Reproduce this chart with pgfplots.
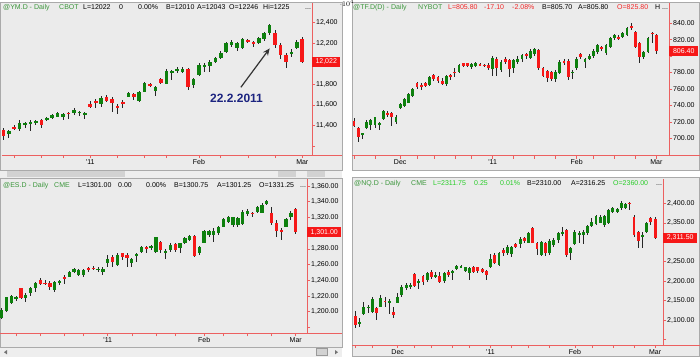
\documentclass[border=0pt]{standalone}
\usepackage{fontspec}
\setmainfont{Liberation Sans}
\usepackage{pgfplots}
\usepackage{pgfplotstable}
\pgfplotsset{compat=1.18}
\usetikzlibrary{arrows.meta}

\definecolor{panelbg}{RGB}{235,235,235}
\definecolor{framec}{RGB}{170,170,170}
\definecolor{axred}{RGB}{236,96,96}
\definecolor{upg}{RGB}{14,128,14}
\definecolor{dnr}{RGB}{246,24,24}
\definecolor{hdrgreen}{RGB}{60,150,60}
\definecolor{brgreen}{RGB}{40,205,40}
\definecolor{hdrred}{RGB}{242,40,40}
\definecolor{navyt}{RGB}{28,36,128}
\definecolor{sbtrack}{RGB}{238,238,238}
\definecolor{sbthumb}{RGB}{210,210,210}

\pgfplotstableread{
i o h l c
0 11356 11372 11258 11297
1 11317 11356 11275 11349
2 11388 11404 11356 11365
3 11365 11453 11349 11427
4 11401 11437 11372 11421
5 11414 11453 11346 11437
6 11427 11453 11404 11440
7 11453 11460 11372 11401
8 11450 11486 11443 11476
9 11469 11511 11460 11502
10 11486 11528 11479 11518
11 11479 11518 11453 11508
12 11524 11534 11460 11511
13 11518 11567 11502 11550
14 11528 11541 11492 11531
15 11498 11534 11460 11524
16 11609 11641 11567 11583
17 11635 11654 11567 11615
18 11606 11687 11583 11670
19 11680 11693 11625 11641
20 11654 11674 11534 11622
21 11589 11606 11511 11576
22 11631 11648 11567 11615
23 11680 11729 11674 11713
24 11706 11719 11648 11680
25 11641 11739 11631 11729
26 11729 11826 11722 11816
27 11803 11816 11777 11784
28 11739 11787 11687 11777
29 11849 11859 11803 11816
30 11803 11946 11803 11933
31 11907 11940 11842 11933
32 11938 11972 11914 11942
33 11923 11972 11914 11946
34 11946 11956 11745 11777
35 11794 11859 11761 11849
36 11891 12005 11881 11988
37 11972 12005 11923 11988
38 11979 12037 11923 12021
39 12021 12069 12005 12053
40 12053 12128 12044 12108
41 12118 12215 12108 12199
42 12183 12232 12160 12215
43 12150 12215 12128 12199
44 12150 12248 12141 12238
45 12232 12238 12199 12215
46 12212 12225 12167 12199
47 12206 12264 12193 12248
48 12238 12313 12225 12297
49 12297 12387 12280 12378
50 12297 12329 12151 12183
51 12183 12199 12044 12086
52 12086 12102 11956 12021
53 12095 12141 12069 12118
54 12150 12232 12141 12215
55 12246 12264 12005 12022
}\ymdata

\pgfplotstableread{
i o h l c
0 721.0 724.3 714.0 715.4
1 712.1 714.1 695.9 701.2
2 704.0 706.8 699.0 706.0
3 712.1 722.2 711.3 720.2
4 716.2 723.1 710.1 722.2
5 716.2 726.3 712.1 725.5
6 716.2 720.2 710.1 719.0
7 723.1 734.4 722.2 733.6
8 730.4 733.2 726.3 728.3
9 730.4 732.4 715.4 726.3
10 720.2 728.3 717.0 726.3
11 736.4 742.5 735.6 741.7
12 739.3 748.6 738.5 747.4
13 743.3 754.7 742.5 753.9
14 751.4 760.7 750.6 759.5
15 767.6 768.9 759.5 762.8
16 764.8 767.6 758.7 762.8
17 767.6 768.9 762.8 763.6
18 764.8 775.7 763.6 774.9
19 777.0 777.8 770.0 771.7
20 774.1 775.7 767.6 770.0
21 770.0 772.9 764.8 766.0
22 766.0 777.0 763.6 775.7
23 777.0 778.2 770.9 774.9
24 781.0 785.0 774.9 779.0
25 781.0 790.3 779.8 789.1
26 791.1 792.0 786.3 787.9
27 791.1 792.0 787.1 787.9
28 786.3 791.1 783.8 790.3
29 787.9 793.2 787.1 792.0
30 790.3 791.1 787.9 788.7
31 789.1 790.3 787.1 787.9
32 789.1 791.1 783.0 785.1
33 783.8 800.0 775.7 798.0
34 797.0 799.0 776.0 785.0
35 783.0 795.0 781.0 793.0
36 797.0 799.0 790.0 793.0
37 795.0 797.0 774.0 784.0
38 785.0 797.0 779.0 795.0
39 793.0 800.0 790.0 796.0
40 796.0 803.0 793.0 801.0
41 802.0 804.0 796.0 800.0
42 798.0 808.0 797.0 806.0
43 802.0 810.0 800.0 808.0
44 807.0 808.0 783.0 785.0
45 785.0 787.0 774.0 776.0
46 782.0 783.0 769.0 773.0
47 780.0 782.0 770.0 772.0
48 772.0 783.0 769.0 781.0
49 779.0 795.0 778.0 793.0
50 794.4 796.0 789.0 791.1
51 794.4 796.0 770.8 775.0
52 779.0 783.0 771.7 781.0
53 785.0 799.0 783.0 797.0
54 802.0 804.0 797.0 799.0
55 793.0 798.0 785.0 797.0
56 797.0 802.0 795.0 800.0
57 800.0 808.0 798.0 806.5
58 805.0 815.0 803.0 813.0
59 810.6 812.0 806.0 808.0
60 803.3 815.0 801.0 813.4
61 811.4 823.0 810.0 821.5
62 821.5 826.5 820.0 825.6
63 823.5 825.0 819.0 821.5
64 823.5 829.0 822.0 827.6
65 825.6 835.0 824.0 833.7
66 836.0 839.7 832.0 834.8
67 828.8 830.0 810.0 811.4
68 815.4 817.0 792.0 799.2
69 799.2 806.5 797.0 805.3
70 805.3 823.0 804.0 821.5
71 828.4 829.5 815.4 826.8
72 825.8 827.0 802.0 805.8
}\tfdata

\pgfplotstableread{
i o h l c
0 1191.5 1204.3 1190.3 1202.2
1 1201.3 1219.1 1200.0 1218.3
2 1211.5 1221.3 1209.8 1220.0
3 1215.8 1220.0 1214.0 1218.3
4 1229.8 1230.6 1215.8 1217.0
5 1217.0 1223.4 1212.8 1221.3
6 1223.4 1231.9 1220.0 1229.8
7 1229.8 1238.3 1225.5 1237.0
8 1240.4 1242.5 1234.0 1235.3
9 1237.0 1240.4 1234.0 1236.0
10 1236.1 1239.1 1227.6 1231.9
11 1227.6 1239.5 1225.5 1238.3
12 1237.0 1240.4 1234.0 1239.1
13 1243.8 1246.7 1235.3 1241.2
14 1244.6 1252.3 1243.8 1251.0
15 1251.0 1256.1 1248.9 1254.4
16 1246.7 1254.0 1245.5 1253.1
17 1246.7 1254.0 1244.6 1253.1
18 1255.2 1257.4 1251.0 1253.1
19 1256.1 1258.2 1253.1 1254.8
20 1254.0 1257.4 1250.0 1254.2
21 1251.0 1256.5 1246.7 1254.0
22 1261.6 1272.2 1257.4 1266.7
23 1270.1 1272.2 1257.4 1263.7
24 1259.5 1274.3 1258.2 1272.2
25 1274.3 1275.2 1265.9 1270.1
26 1272.2 1274.3 1257.4 1268.0
27 1261.6 1268.0 1257.4 1266.7
28 1271.0 1274.3 1263.7 1273.1
29 1276.5 1283.7 1274.3 1282.8
30 1282.0 1283.7 1274.3 1279.4
31 1280.7 1285.0 1278.6 1283.7
32 1276.5 1295.6 1275.2 1294.7
33 1289.2 1290.5 1274.3 1278.6
34 1275.2 1279.4 1266.7 1277.7
35 1278.6 1287.1 1276.5 1285.0
36 1286.2 1287.9 1276.5 1278.6
37 1280.7 1287.9 1275.2 1287.1
38 1287.1 1294.7 1286.2 1293.5
39 1291.3 1297.7 1290.5 1296.4
40 1296.4 1297.7 1269.2 1271.0
41 1274.3 1283.7 1272.2 1282.8
42 1288.0 1304.0 1287.0 1303.2
43 1297.7 1304.0 1295.6 1302.8
44 1297.7 1306.2 1289.2 1303.2
45 1299.8 1309.2 1297.7 1307.5
46 1308.3 1318.9 1307.4 1317.6
47 1314.7 1321.9 1313.4 1321.0
48 1310.4 1321.0 1307.4 1320.2
49 1310.4 1321.0 1307.4 1318.9
50 1311.7 1329.5 1310.4 1327.4
51 1324.4 1330.4 1321.9 1328.7
52 1326.1 1327.4 1321.0 1324.4
53 1327.4 1334.6 1326.1 1332.9
54 1326.1 1338.0 1325.3 1335.9
55 1337.2 1342.3 1335.9 1341.4
56 1326.1 1333.8 1310.4 1312.5
57 1313.4 1316.8 1295.6 1303.2
58 1304.0 1306.2 1291.3 1301.9
59 1308.3 1318.9 1307.4 1317.6
60 1321.0 1328.7 1316.8 1326.1
61 1331.25 1332.0 1299.0 1301.0
}\esdata

\pgfplotstableread{
i o h l c
0 2110.3 2124.0 2078.6 2087.2
1 2091.4 2104.3 2082.9 2095.7
2 2115.5 2147.2 2112.9 2132.6
3 2130.1 2138.6 2117.2 2134.3
4 2120.6 2158.3 2118.9 2154.9
5 2130.0 2134.3 2100.0 2117.2
6 2134.3 2164.3 2132.6 2155.8
7 2149.0 2158.3 2132.6 2146.3
8 2142.9 2153.2 2115.5 2148.9
9 2121.5 2132.6 2104.3 2112.9
10 2144.6 2170.3 2142.9 2158.3
11 2164.3 2190.0 2160.0 2185.8
12 2181.5 2194.4 2177.2 2190.0
13 2185.8 2196.0 2179.0 2190.0
14 2218.4 2220.1 2185.8 2187.5
15 2196.0 2204.6 2179.0 2201.2
16 2213.2 2215.8 2190.0 2198.6
17 2203.0 2224.4 2198.6 2220.1
18 2224.4 2228.7 2204.6 2211.5
19 2211.5 2224.4 2207.2 2215.8
20 2213.2 2224.4 2194.4 2198.6
21 2201.2 2224.4 2194.4 2220.1
22 2224.4 2228.7 2211.5 2215.8
23 2221.8 2228.7 2203.0 2227.0
24 2230.4 2241.5 2228.7 2239.0
25 2235.5 2241.5 2233.0 2239.0
26 2227.0 2237.2 2224.4 2235.5
27 2221.8 2235.5 2203.0 2233.0
28 2237.2 2239.0 2220.1 2224.4
29 2235.5 2237.2 2221.8 2227.0
30 2230.4 2233.0 2220.1 2224.4
31 2227.0 2228.7 2203.0 2215.8
32 2237.2 2269.8 2233.0 2256.1
33 2267.3 2271.5 2244.1 2245.8
34 2241.5 2275.8 2239.0 2273.2
35 2280.1 2284.4 2264.7 2271.5
36 2273.2 2293.0 2267.3 2287.0
37 2269.8 2290.4 2263.0 2287.0
38 2295.5 2299.0 2284.4 2288.7
39 2295.5 2312.7 2284.4 2307.6
40 2310.1 2314.4 2297.3 2304.1
41 2299.0 2327.3 2297.3 2324.7
42 2335.9 2338.4 2297.3 2299.0
43 2297.3 2301.6 2267.3 2281.8
44 2267.3 2304.1 2264.7 2301.6
45 2299.0 2301.6 2264.7 2271.5
46 2271.5 2307.6 2267.3 2304.1
47 2293.0 2310.1 2288.7 2305.9
48 2305.9 2327.3 2297.3 2323.0
49 2321.3 2338.4 2316.1 2327.3
50 2331.6 2333.3 2263.0 2267.3
51 2271.5 2287.0 2254.4 2284.4
52 2295.5 2331.6 2293.0 2327.3
53 2318.7 2329.9 2297.3 2324.7
54 2318.7 2331.6 2295.5 2327.3
55 2323.0 2344.4 2318.7 2341.9
56 2341.8 2361.5 2338.3 2353.0
57 2347.0 2370.1 2344.4 2367.5
58 2350.4 2370.1 2348.7 2365.8
59 2344.4 2370.1 2340.0 2367.5
60 2348.7 2384.7 2347.0 2383.0
61 2378.7 2391.5 2374.4 2387.2
62 2378.7 2387.2 2376.1 2384.7
63 2387.2 2406.0 2383.0 2400.1
64 2387.2 2401.8 2384.7 2398.4
65 2401.8 2404.4 2383.0 2398.4
66 2365.8 2370.1 2314.3 2318.6
67 2327.2 2329.8 2284.3 2304.1
68 2316.0 2327.2 2284.3 2318.6
69 2327.2 2352.9 2324.6 2350.4
70 2361.5 2364.1 2344.4 2353.0
71 2360.0 2365.8 2307.5 2311.75
}\nqdata

% #1 table, #2 body width, #3 minimum half body height
\newcommand{\candles}[3]{%
\addplot[draw=none, mark=none, forget plot,
  error bars/.cd, y dir=both, y explicit, error mark=none,
  error bar style={draw=black!85, line width=0.9pt, solid}]
  table[x=i, y expr={(\thisrow{h}+\thisrow{l})/2}, y error expr={(\thisrow{h}-\thisrow{l})/2}] {#1};
\addplot[draw=none, mark=none, forget plot,
  restrict expr to domain={\thisrow{c}-\thisrow{o}}{0:100000},
  error bars/.cd, y dir=both, y explicit, error mark=none,
  error bar style={draw=upg, line width=#2, solid}]
  table[x=i, y expr={(\thisrow{o}+\thisrow{c})/2}, y error expr={max(abs(\thisrow{c}-\thisrow{o})/2,#3)}] {#1};
\addplot[draw=none, mark=none, forget plot,
  restrict expr to domain={\thisrow{c}-\thisrow{o}}{-100000:-0.0001},
  error bars/.cd, y dir=both, y explicit, error mark=none,
  error bar style={draw=dnr, line width=#2, solid}]
  table[x=i, y expr={(\thisrow{o}+\thisrow{c})/2}, y error expr={max(abs(\thisrow{c}-\thisrow{o})/2,#3)}] {#1};
}

\pgfplotsset{panel/.style={
  scale only axis, clip mode=individual,
  axis x line=bottom, axis y line=right,
  axis line style={draw=axred, line width=0.8pt},
  every outer x axis line/.append style={-},
  every outer y axis line/.append style={-},
  x axis line style={-}, y axis line style={-},
  tick style={draw=axred, line width=0.6pt},
  tick align=outside, major tick length=3pt, minor tick length=3pt,
  ticklabel style={font=\fontsize{7}{8}\selectfont, text=black},
  xticklabel style={inner sep=1pt},
  yticklabel style={inner sep=1pt},
  enlargelimits=false,
  /pgf/number format/assume math mode=true,
}}

\tikzset{hdr/.style={anchor=base west, inner sep=0pt, font=\fontsize{7}{8}\selectfont},
  pbox/.style={fill=dnr, text=white, anchor=west, inner xsep=1.5pt, inner ysep=0pt,
    minimum height=10pt, font=\fontsize{7}{8}\selectfont}}

\begin{document}
\begin{tikzpicture}
\path[use as bounding box] (0pt,0pt) rectangle (700pt,357pt);
\fill[white] (0pt,0pt) rectangle (700pt,357pt);
% panels
\filldraw[fill=panelbg, draw=framec, line width=0.6pt] (0.5pt,187pt) rectangle (342pt,355pt);
\filldraw[fill=panelbg, draw=framec, line width=0.6pt] (352pt,187pt) rectangle (699.5pt,355pt);
\filldraw[fill=panelbg, draw=framec, line width=0.6pt] (0.5pt,10pt) rectangle (342pt,178.5pt);
\filldraw[fill=panelbg, draw=framec, line width=0.6pt] (352pt,0.3pt) rectangle (699.5pt,179.5pt);
% scroll bars
\fill[sbtrack] (0pt,179.5pt) rectangle (342pt,186.5pt);
\fill[sbthumb] (7pt,180.3pt) rectangle (125pt,185.7pt);
\fill[sbthumb] (278pt,180.3pt) rectangle (296pt,185.7pt);
\fill[sbthumb] (307pt,180.3pt) rectangle (325pt,185.7pt);
\fill[sbtrack] (0pt,0pt) rectangle (342pt,9.5pt);
\filldraw[fill=sbthumb, draw=black!40] (316pt,1.5pt) rectangle (327pt,8.5pt);
\fill[black!55] (4pt,4.8pt) -- (7pt,7pt) -- (7pt,2.6pt) -- cycle;
\fill[black!55] (338pt,4.8pt) -- (335pt,7pt) -- (335pt,2.6pt) -- cycle;
% red axis extensions
\draw[axred, line width=0.8pt] (312pt,202pt) -- (342pt,202pt);
\draw[axred, line width=0.8pt] (669pt,201.3pt) -- (699.5pt,201.3pt);
\draw[axred, line width=0.8pt] (307pt,23.7pt) -- (342pt,23.7pt);
\draw[axred, line width=0.8pt] (663pt,12pt) -- (699.5pt,12pt);

% ---------------- YM ----------------
\begin{axis}[panel, at={(2pt,202pt)}, anchor=south west, width=310pt, height=152pt,
  xmin=-0.24, xmax=56.79, ymin=11112, ymax=12592,
  xtick={16,36,55}, xticklabels={{\textquotesingle 11},Feb,Mar},
  minor xtick={2,7,11,21,26,30,40,45,50},
  ytick={11200,11400,11600,11800,12000,12200,12400},
  yticklabels={{},{11,400},{11,600},{11,800},{},{12,200},{12,400}}]
\candles{\ymdata}{3.6pt}{5}
\node[pbox, minimum width=28pt] at (axis cs:56.79,12022) {12,022};
\draw[-{Stealth[length=7pt,width=6pt]}, line width=1.2pt, black!80] (axis cs:43.7,11771) -- (axis cs:49.0,12150);
\node[text=navyt, font=\fontsize{12}{14}\selectfont\bfseries] at (axis cs:42.9,11667) {22.2.2011};
\end{axis}

% ---------------- TF ----------------
\begin{axis}[panel, at={(352pt,201.3pt)}, anchor=south west, width=317pt, height=152.7pt,
  xmin=-0.48, xmax=75, ymin=678.8, ymax=864.5,
  xtick={11,33,53,72}, xticklabels={Dec,{\textquotesingle 11},Feb,Mar},
  minor xtick={0,5,15,19,24,28,38,43,48,57,62,67},
  ytick={700,720,740,760,780,800,820,840},
  yticklabels={700.00,720.00,740.00,760.00,780.00,{},820.00,840.00}]
\candles{\tfdata}{2.9pt}{0.5}
\node[pbox, minimum width=29pt] at (axis cs:75,806.4) {806.40};
\end{axis}

% ---------------- ES ----------------
\begin{axis}[panel, at={(0pt,23.7pt)}, anchor=south west, width=307pt, height=154.3pt,
  xmin=-0.35, xmax=63.34, ymin=1172.5, ymax=1369,
  xtick={22,42,61}, xticklabels={{\textquotesingle 11},Feb,Mar},
  minor xtick={3,8,13,17,27,32,36,46,51,56},
  ytick={1180,1200,1220,1240,1260,1280,1300,1320,1340,1360},
  yticklabels={{},{1,200.00},{1,220.00},{1,240.00},{1,260.00},{1,280.00},{},{1,320.00},{1,340.00},{1,360.00}}]
\candles{\esdata}{3.3pt}{0.5}
\node[pbox, minimum width=34pt] at (axis cs:63.34,1301) {1,301.00};
\end{axis}

% ---------------- NQ ----------------
\begin{axis}[panel, at={(352pt,12pt)}, anchor=south west, width=311pt, height=166pt,
  xmin=-0.83, xmax=72.87, ymin=2035.7, ymax=2462.7,
  xtick={10,32,52,71}, xticklabels={Dec,{\textquotesingle 11},Feb,Mar},
  minor xtick={0,4,14,18,23,27,37,41,46,56,61,66},
  ytick={2050,2100,2150,2200,2250,2300,2350,2400},
  yticklabels={{},{2,100.00},{2,150.00},{2,200.00},{2,250.00},{},{2,350.00},{2,400.00}}]
\candles{\nqdata}{2.9pt}{1.2}
\node[pbox, minimum width=34pt] at (axis cs:72.87,2311.5) {2,311.50};
\end{axis}

% ---------------- headers ----------------
\node[hdr, text=hdrgreen] at (3pt,347.7pt) {@YM.D - Daily};
\node[hdr, text=hdrgreen] at (59pt,347.7pt) {CBOT};
\node[hdr] at (83pt,347.7pt) {L=12022};
\node[hdr] at (119pt,347.7pt) {0};
\node[hdr] at (138pt,347.7pt) {0.00\%};
\node[hdr] at (166pt,347.7pt) {B=12010};
\node[hdr] at (197pt,347.7pt) {A=12043};
\node[hdr] at (229pt,347.7pt) {O=12246};
\node[hdr] at (263pt,347.7pt) {Hi=1225};
\node[hdr] at (305pt,347.7pt) {...};

\node[hdr, text=hdrgreen] at (353pt,347.7pt) {@TF.D(D) - Daily};
\node[hdr, text=hdrgreen] at (418pt,347.7pt) {NYBOT};
\node[hdr, text=hdrred] at (448pt,347.7pt) {L=805.80};
\node[hdr, text=hdrred] at (484pt,347.7pt) {-17.10};
\node[hdr, text=hdrred] at (512pt,347.7pt) {-2.08\%};
\node[hdr] at (542pt,347.7pt) {B=805.70};
\node[hdr] at (578pt,347.7pt) {A=805.80};
\node[hdr, text=hdrred] at (617pt,347.7pt) {O=825.80};
\node[hdr] at (655pt,347.7pt) {H ...};

\node[hdr, text=hdrgreen] at (3pt,169.7pt) {@ES.D - Daily};
\node[hdr, text=hdrgreen] at (54pt,169.7pt) {CME};
\node[hdr] at (78pt,169.7pt) {L=1301.00};
\node[hdr] at (118pt,169.7pt) {0.00};
\node[hdr] at (146pt,169.7pt) {0.00\%};
\node[hdr] at (174pt,169.7pt) {B=1300.75};
\node[hdr] at (217pt,169.7pt) {A=1301.25};
\node[hdr] at (259pt,169.7pt) {O=1331.25};
\node[hdr] at (300pt,169.7pt) {...};

\node[hdr, text=hdrgreen] at (354pt,171.3pt) {@NQ.D - Daily};
\node[hdr, text=hdrgreen] at (411pt,171.3pt) {CME};
\node[hdr, text=brgreen] at (433pt,171.3pt) {L=2311.75};
\node[hdr, text=brgreen] at (474pt,171.3pt) {0.25};
\node[hdr, text=brgreen] at (500pt,171.3pt) {0.01\%};
\node[hdr] at (527pt,171.3pt) {B=2310.00};
\node[hdr] at (571pt,171.3pt) {A=2316.25};
\node[hdr, text=brgreen] at (613pt,171.3pt) {O=2360.00};
\node[hdr] at (656pt,171.3pt) {...};
\end{tikzpicture}
\end{document}
